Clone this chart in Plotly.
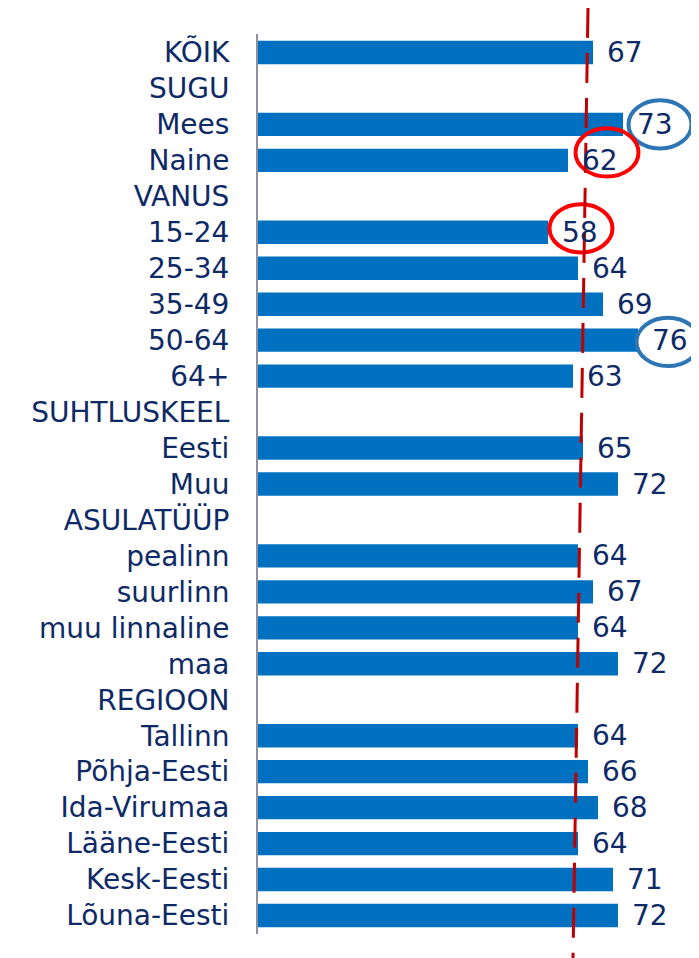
import plotly.graph_objects as go

# rows top to bottom; None = group header without a bar
categories = [
    "KÕIK", "SUGU", "Mees", "Naine", "VANUS", "15-24", "25-34", "35-49", "50-64", "64+",
    "SUHTLUSKEEL", "Eesti", "Muu", "ASULATÜÜP", "pealinn", "suurlinn", "muu linnaline", "maa",
    "REGIOON", "Tallinn", "Põhja-Eesti", "Ida-Virumaa", "Lääne-Eesti", "Kesk-Eesti", "Lõuna-Eesti",
]
values = [
    67, None, 73, 62, None, 58, 64, 69, 76, 63,
    None, 65, 72, None, 64, 67, 64, 72,
    None, 64, 66, 68, 64, 71, 72,
]

# highlighted value labels: (category, colour, x offset from bar end, y offset in rows)
highlights = [
    ("Mees", "#2e75b6", 7.4, 0.0),
    ("Naine", "#ff0000", 7.8, -0.22),
    ("15-24", "#ff0000", 6.6, -0.11),
    ("50-64", "#2e75b6", 6.0, 0.05),
]

TEXT_COLOR = "#0e2a66"
BAR_COLOR = "#0070c0"
FONT = "DejaVu Sans, Verdana, sans-serif"

fig = go.Figure(
    go.Bar(
        x=values,
        y=categories,
        orientation="h",
        marker=dict(color=BAR_COLOR, line=dict(width=0)),
        width=0.65,
        hoverinfo="x+y",
    )
)

for cat, val in zip(categories, values):
    if val is None:
        continue
    fig.add_annotation(
        x=val,
        y=cat,
        text=str(val),
        showarrow=False,
        xanchor="left",
        xshift=12,
        font=dict(size=28, color=TEXT_COLOR, family=FONT),
    )

for cat, color, dx, dy in highlights:
    i = categories.index(cat)
    v = values[i]
    fig.add_shape(
        type="circle",
        xref="x",
        yref="y",
        x0=v + dx - 6.3,
        x1=v + dx + 6.3,
        y0=i + dy - 0.67,
        y1=i + dy + 0.67,
        line=dict(color=color, width=4),
    )

# hand-drawn looking reference line (slightly slanted)
fig.add_shape(
    type="line",
    xref="x",
    yref="paper",
    x0=66.0,
    y0=1.029,
    x1=63.0,
    y1=-0.027,
    line=dict(color="#c00000", width=3, dash="30px,15px"),
)

# page body has an 8px margin, so the figure is offset for it
fig.update_layout(
    width=699,
    height=950,
    margin=dict(l=250, r=8, t=26, b=24),
    plot_bgcolor="white",
    paper_bgcolor="white",
    showlegend=False,
    font=dict(family=FONT, color=TEXT_COLOR),
    xaxis=dict(
        range=[0, 88.2],
        visible=False,
        fixedrange=True,
    ),
    yaxis=dict(
        autorange="reversed",
        showline=True,
        linecolor="#8f8f9f",
        linewidth=2,
        showgrid=False,
        ticks="",
        ticklabelstandoff=21,
        tickfont=dict(size=28, color=TEXT_COLOR, family=FONT),
        fixedrange=True,
    ),
)

fig.write_html("out.html")
